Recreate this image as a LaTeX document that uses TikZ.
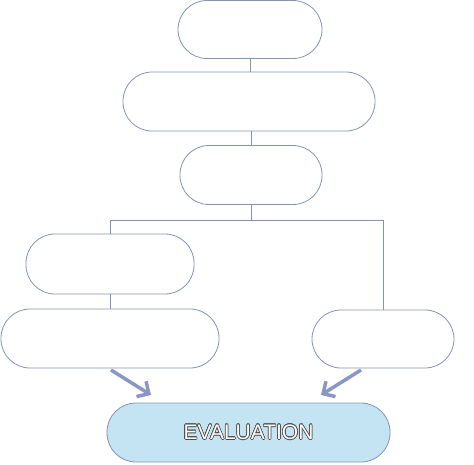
\documentclass[tikz,border=0pt]{standalone}
\usepackage{fontspec}
\setsansfont{Liberation Sans}
\usepackage{contour}
\contourlength{0.6pt}
\usetikzlibrary{arrows.meta}
\definecolor{edge}{HTML}{8494B0}
\definecolor{arrowc}{HTML}{8A96C4}
\definecolor{evalfill}{HTML}{C4E4F4}
\tikzset{
  pill/.style={draw=edge, line width=0.8pt, fill=white, rectangle, rounded corners=29pt, inner sep=0pt},
  link/.style={draw=edge, line width=0.8pt},
  bigarrow/.style={draw=arrowc, line width=3.5pt, -{Straight Barb[length=9pt,width=18pt]}},
}
\begin{document}
\begin{tikzpicture}[x=1pt,y=-1pt]
\useasboundingbox (0,0) rectangle (474,464);
\node[pill, minimum width=144pt, minimum height=58pt] (b1) at (250,29.5) {};
\node[pill, minimum width=252pt, minimum height=59pt] (b2) at (249,101.5) {};
\node[pill, minimum width=142pt, minimum height=59pt] (b3) at (251,175) {};
\node[pill, minimum width=168pt, minimum height=60pt] (b4) at (110,264) {};
\node[pill, minimum width=218pt, minimum height=59pt] (b5) at (110,338.5) {};
\node[pill, minimum width=142pt, minimum height=58pt] (b6) at (383,339) {};
\node[pill, fill=evalfill, minimum width=283pt, minimum height=59pt] (ev) at (248.5,432.5)
  {\fontsize{21}{24}\sffamily\contour{black!70}{\textcolor{white}{EVALUATION}}};
\coordinate (j) at (251,220);
\draw[link] (b1.south) -- (b1.south |- b2.north);
\draw[link] (b2.south -| b3.south) -- (b3.north);
\draw[link] (b3.south) -- (j);
\draw[link] (j) -| (b4.north);
\draw[link] (j) -| (b6.north);
\draw[link] (b4.south) -- (b4.south |- b5.north);
\coordinate (la) at (111,370);
\coordinate (lt) at (151,395);
\coordinate (ra) at (361,370);
\coordinate (rt) at (321,395);
\draw[bigarrow] (la) -- (lt);
\draw[bigarrow] (ra) -- (rt);
\end{tikzpicture}
\end{document}
